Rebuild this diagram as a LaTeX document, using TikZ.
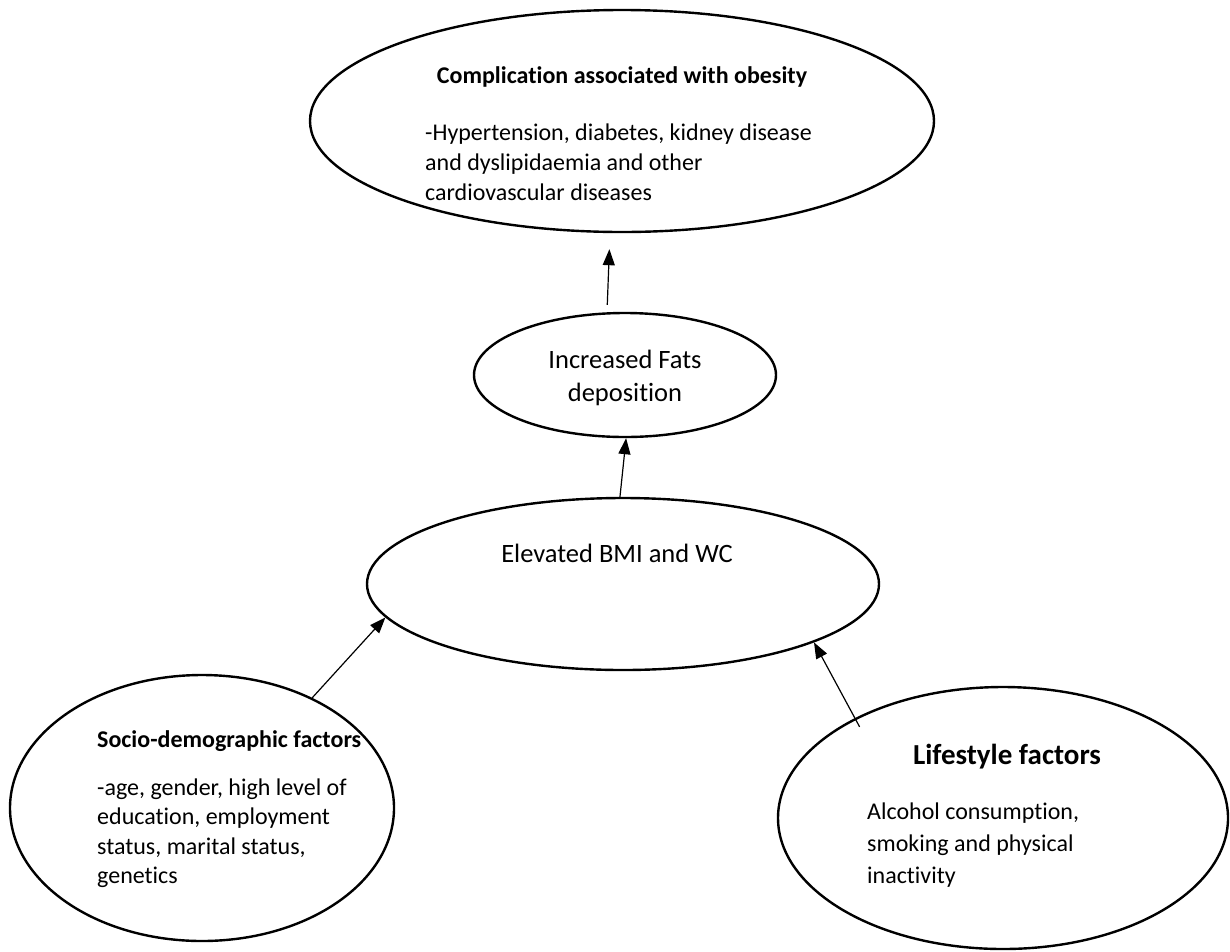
\documentclass[tikz,border=0pt]{standalone}
\usepackage{fontspec}
\setmainfont{Carlito}[RawFeature={-liga}]
\usetikzlibrary{shapes.geometric,arrows.meta}
\begin{document}
\begin{tikzpicture}[x=1pt,y=-1pt,
  oval/.style={draw,ellipse,line width=2.4pt,inner sep=0pt},
  arr/.style={line width=1.2pt,-{Triangle[length=16pt,width=12pt]}},
  txt/.style={font=\fontsize{24}{30}\selectfont,align=left,inner sep=0pt},
  ttl/.style={font=\fontsize{24}{30}\selectfont\bfseries,inner sep=0pt}]
\useasboundingbox (0,0) rectangle (1230,951);
% ellipses
\node[oval,minimum width=624pt,minimum height=222pt] (top) at (622,121) {};
\node[oval,minimum width=302pt,minimum height=124pt] (fats) at (625,375) {};
\node[oval,minimum width=512pt,minimum height=172pt] (bmi) at (623,584) {};
\node[oval,minimum width=384pt,minimum height=266pt] (socio) at (202,808) {};
\node[oval,minimum width=450pt,minimum height=262pt] (life) at (1003,818) {};
% texts
\node[ttl] (toptitle) at (622,77) {Complication associated with obesity};
\node[txt,anchor=west] (topbody) at (425,162) {-Hypertension, diabetes, kidney disease\\and dyslipidaemia and other\\cardiovascular diseases};
\node[txt,align=center,font=\fontsize{26.5}{33}\selectfont] (fatstext) at (625,378) {Increased Fats\\deposition};
\node[txt,font=\fontsize{26.5}{33}\selectfont] (bmitext) at (617,553) {Elevated BMI and WC};
\node[ttl,anchor=west] (sociotitle) at (97,741) {Socio-demographic factors};
\node[txt,anchor=west,font=\fontsize{24}{29.5}\selectfont] (sociobody) at (97,833) {-age, gender, high level of\\education, employment\\status, marital status,\\genetics};
\node[ttl,font=\fontsize{29}{34}\selectfont\bfseries] (lifetitle) at (1007,757) {Lifestyle factors};
\node[txt,anchor=west,font=\fontsize{24}{32}\selectfont] (lifebody) at (867,845) {Alcohol consumption,\\smoking and physical\\inactivity};
% arrows
\draw[arr,shorten <=7pt,shorten >=16pt] ([xshift=-18pt]fats.north) -- ([xshift=-12pt]top.south);
\draw[arr] (bmi.92) -- (fats.271);
\draw[arr] (socio.45) -- (bmi.188);
\draw[arr,shorten <=-10pt] (life.146) -- (bmi.343);
\end{tikzpicture}
\end{document}
